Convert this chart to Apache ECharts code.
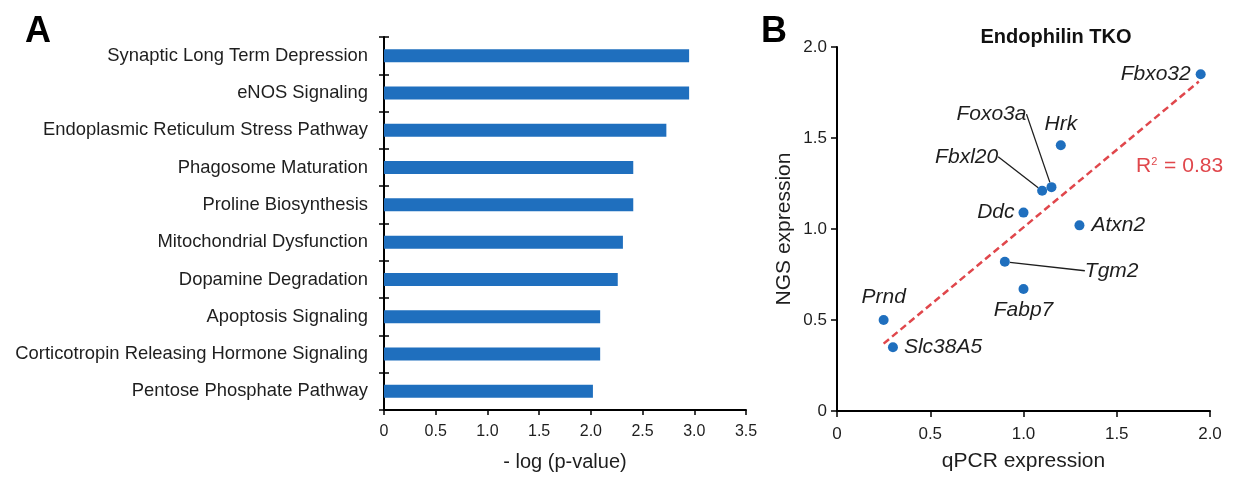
<!DOCTYPE html>
<html>
<head>
<meta charset="utf-8">
<title>Pathways and Endophilin TKO expression</title>
<script src="https://cdn.jsdelivr.net/npm/echarts@6/dist/echarts.min.js"></script>
<style>
  html, body { margin: 0; padding: 0; background: #fff; overflow: hidden; }
  #chart { width: 1238px; height: 477px; }
</style>
</head>
<body>
<div id="chart"></div>
<script>
// Panel A: enriched pathways, -log(p-value)
const pathways = [
  'Synaptic Long Term Depression',
  'eNOS Signaling',
  'Endoplasmic Reticulum Stress Pathway',
  'Phagosome Maturation',
  'Proline Biosynthesis',
  'Mitochondrial Dysfunction',
  'Dopamine Degradation',
  'Apoptosis Signaling',
  'Corticotropin Releasing Hormone Signaling',
  'Pentose Phosphate Pathway'
];
const negLogP = [2.95, 2.95, 2.73, 2.41, 2.41, 2.31, 2.26, 2.09, 2.09, 2.02];

// Panel B: qPCR vs NGS expression per gene
const genes = ['Fbxo32', 'Hrk', 'Foxo3a', 'Fbxl20', 'Ddc', 'Atxn2', 'Tgm2', 'Fabp7', 'Prnd', 'Slc38A5'];
const qpcr  = [1.95, 1.20, 1.15, 1.10, 1.00, 1.30, 0.90, 1.00, 0.25, 0.30];
const ngs   = [1.85, 1.46, 1.23, 1.21, 1.09, 1.02, 0.82, 0.67, 0.50, 0.35];

// Fitted regression line (end points) and its R²
const fitX = [0.25, 1.94];
const fitY = [0.37, 1.81];
const rSquared = 0.83;

const FONT = '"Liberation Sans", Arial, Helvetica, sans-serif';
const BLUE = '#1f6fbe';
const RED = '#e0474c';
const INK = '#1e1e1e';

// Where each gene name sits relative to its dot
const geneLabelStyle = {
  Fbxo32:  { position: 'left',  distance: 5 },
  Hrk:     { position: 'top',   distance: 6, offset: [10, 0] },
  Foxo3a:  { position: 'left',  distance: 5, move: [-15, -73], line: true },
  Fbxl20:  { position: 'left',  distance: 5, move: [-34, -34], line: true },
  Ddc:     { position: 'left',  distance: 4 },
  Atxn2:   { position: 'right', distance: 7 },
  Tgm2:    { position: 'right', distance: 5, move: [70, 9], line: true },
  Fabp7:   { position: 'bottom', distance: 6, offset: [6, 0] },
  Prnd:    { position: 'top',   distance: 7, offset: [-2, 0] },
  Slc38A5: { position: 'right', distance: 6, offset: [0, 9] }
};

const scatterData = genes.map((g, i) => {
  const s = geneLabelStyle[g];
  const item = {
    name: g,
    value: [qpcr[i], ngs[i]],
    label: { position: s.position, distance: s.distance }
  };
  if (s.offset) item.label.offset = s.offset;
  if (s.line) item.labelLine = { show: true };
  return item;
});

const chart = echarts.init(document.getElementById('chart'), null, { renderer: 'canvas' });

const axisLine = { show: true, lineStyle: { color: '#000', width: 2 } };
const tickStyle = { lineStyle: { color: '#000', width: 1.5 } };
const tickFmt = v => (v === 0 ? '0' : v.toFixed(1));

chart.setOption({
  animation: false,
  textStyle: { fontFamily: FONT },
  title: {
    text: 'Endophilin TKO',
    left: 1051,
    top: 22,
    textAlign: 'center',
    textStyle: { fontFamily: FONT, fontSize: 20, fontWeight: 'bold', color: '#111' }
  },
  grid: [
    { left: 384, top: 37, width: 362, height: 375 },
    { left: 837, top: 47, width: 373, height: 366 }
  ],
  xAxis: [
    {
      gridIndex: 0, type: 'value', min: 0, max: 3.5, interval: 0.5,
      axisLine: axisLine,
      axisTick: Object.assign({ show: true, length: 5 }, tickStyle),
      splitLine: { show: false },
      axisLabel: { fontSize: 16, color: INK, margin: 14, formatter: tickFmt },
      name: '- log (p-value)', nameLocation: 'middle', nameGap: 42,
      nameTextStyle: { fontSize: 20, color: INK }
    },
    {
      gridIndex: 1, type: 'value', min: 0, max: 2, interval: 0.5,
      axisLine: axisLine,
      axisTick: Object.assign({ show: true, length: 6 }, tickStyle),
      splitLine: { show: false },
      axisLabel: { fontSize: 17, color: INK, margin: 15, formatter: tickFmt },
      name: 'qPCR expression', nameLocation: 'middle', nameGap: 40,
      nameTextStyle: { fontSize: 21, color: INK }
    }
  ],
  yAxis: [
    {
      gridIndex: 0, type: 'category', data: pathways, inverse: true,
      axisLine: axisLine,
      axisTick: Object.assign({ show: true, length: 5 }, tickStyle),
      axisLabel: { fontSize: 18.4, color: INK, margin: 16 }
    },
    {
      // inner half of the crossing ticks on the category axis
      gridIndex: 0, type: 'category', data: pathways, inverse: true, position: 'left',
      axisLine: { show: false },
      axisTick: Object.assign({ show: true, inside: true, length: 5 }, tickStyle),
      axisLabel: { show: false }
    },
    {
      gridIndex: 1, type: 'value', min: 0, max: 2, interval: 0.5,
      axisLine: axisLine,
      axisTick: Object.assign({ show: true, length: 6 }, tickStyle),
      splitLine: { show: false },
      axisLabel: { fontSize: 17, color: INK, margin: 10, formatter: tickFmt },
      name: 'NGS expression', nameLocation: 'middle', nameGap: 42,
      nameTextStyle: { fontSize: 21, color: INK }
    }
  ],
  series: [
    {
      type: 'bar', xAxisIndex: 0, yAxisIndex: 0,
      data: negLogP, barWidth: 13,
      itemStyle: { color: BLUE }
    },
    {
      type: 'line', xAxisIndex: 1, yAxisIndex: 2,
      data: fitX.map((x, i) => [x, fitY[i]]),
      symbol: 'none', silent: true, z: 1,
      lineStyle: { color: RED, width: 2.5, type: [7, 4] }
    },
    {
      type: 'scatter', xAxisIndex: 1, yAxisIndex: 2,
      data: scatterData, symbolSize: 10, z: 3,
      itemStyle: { color: BLUE, opacity: 1 },
      label: {
        show: true, formatter: '{b}',
        fontSize: 21, fontStyle: 'italic', color: INK, fontFamily: FONT, opacity: 1
      },
      labelLine: { show: false, lineStyle: { color: INK, width: 1.3, opacity: 1 } },
      labelLayout: function (p) {
        const s = geneLabelStyle[genes[p.dataIndex]];
        return s.move ? { dx: s.move[0], dy: s.move[1] } : {};
      }
    }
  ],
  graphic: [
    { type: 'text', left: 25, top: 14, style: { text: 'A', fontSize: 36, fontWeight: 'bold', fill: '#000', fontFamily: FONT } },
    { type: 'text', left: 761, top: 14, style: { text: 'B', fontSize: 36, fontWeight: 'bold', fill: '#000', fontFamily: FONT } },
    {
      type: 'text', left: 1136, top: 156,
      style: {
        text: '{r|R}{s|2}{r| = ' + rSquared.toFixed(2) + '}',
        fontFamily: FONT,
        rich: {
          r: { fontSize: 21, fill: RED, fontFamily: FONT },
          s: { fontSize: 11, fill: RED, fontFamily: FONT, verticalAlign: 'top', padding: [0, 1, 8, 0] }
        }
      }
    }
  ]
});
</script>
</body>
</html>
